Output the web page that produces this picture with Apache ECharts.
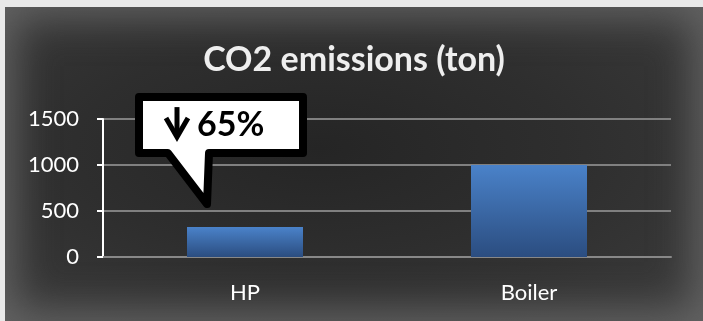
<!DOCTYPE html>
<html>
<head>
<meta charset="utf-8">
<script src="https://cdn.jsdelivr.net/npm/echarts@6/dist/echarts.min.js"></script>
<style>
  html, body { margin: 0; padding: 0; width: 703px; height: 321px; overflow: hidden; background: #e9e9e9; }
  #chart {
    position: absolute; left: 5px; top: 7px; width: 698px; height: 314px;
    background: radial-gradient(ellipse at 45% 45%, #252525 0%, #2e2e2e 45%, #3c3c3c 100%);
    box-shadow: inset 0 0 40px 10px rgba(110, 110, 110, 0.8);
  }
</style>
</head>
<body>
<div id="chart"></div>
<script>
// values
const categories = ["HP", "Boiler"];
const emissions = [325, 1000];
const yTicks = [0, 500, 1000, 1500];
const calloutText = "65%";

const chart = echarts.init(document.getElementById("chart"));

const barColor = new echarts.graphic.LinearGradient(0, 0, 0, 1, [
    { offset: 0, color: "#4a82c9" },
    { offset: 1, color: "#2b4d80" }
]);

chart.setOption({
    animation: false,
    backgroundColor: "transparent",
    title: {
        text: "CO2 emissions (ton)",
        left: "center",
        top: 31,
        textStyle: { color: "#eeeeee", fontFamily: "Lato", fontWeight: "bold", fontSize: 34 }
    },
    grid: { left: 98, right: 32, top: 112, bottom: 64 },
    xAxis: {
        type: "category",
        data: categories,
        axisLine: { lineStyle: { color: "#888888", width: 2 } },
        axisTick: { length: 10, lineStyle: { color: "#888888", width: 2 } },
        axisLabel: { color: "#ffffff", fontFamily: "Lato", fontSize: 22, margin: 25 }
    },
    yAxis: {
        type: "value",
        min: yTicks[0],
        max: yTicks[yTicks.length - 1],
        interval: yTicks[1] - yTicks[0],
        axisLine: { show: true, lineStyle: { color: "#ffffff", width: 2 } },
        axisTick: { show: true, length: 6, lineStyle: { color: "#ffffff", width: 2 } },
        splitLine: { lineStyle: { color: "#808080", width: 2 } },
        axisLabel: {
            color: "#ffffff", fontFamily: "Lato", fontSize: 22, margin: 24,
            formatter: v => String(v)
        }
    },
    series: [{
        type: "bar",
        data: emissions,
        barWidth: 116,
        itemStyle: { color: barColor }
    }]
});

// speech-bubble callout anchored to the HP bar top
const anchor = chart.convertToPixel({ gridIndex: 0 }, [categories[0], emissions[0]]);
const ax = anchor[0], ay = anchor[1];
const bx = ax - 106, by = ay - 130;   // box left/top (stroke centre)
const bw = 164, bh = 56;
chart.setOption({
    graphic: [
        {
            type: "polygon",
            z: 100,
            shape: {
                points: [
                    [bx, by], [bx + bw, by], [bx + bw, by + bh],
                    [bx + 70, by + bh], [bx + 68, by + bh + 51],
                    [bx + 29, by + bh], [bx, by + bh]
                ]
            },
            style: { fill: "#ffffff", stroke: "#000000", lineWidth: 8, lineJoin: "round" }
        },
        {
            // down arrow: shaft
            type: "line",
            z: 101,
            shape: { x1: bx + 38, y1: by + 10, x2: bx + 38, y2: by + 38 },
            style: { stroke: "#000000", lineWidth: 5 }
        },
        {
            // down arrow: head
            type: "polyline",
            z: 101,
            shape: { points: [[bx + 27, by + 21], [bx + 38, by + 40], [bx + 49, by + 21]] },
            style: { stroke: "#000000", lineWidth: 5, fill: null, lineJoin: "miter" }
        },
        {
            type: "text",
            z: 101,
            x: bx + 58,
            y: by + 28,
            style: {
                text: calloutText,
                fill: "#000000",
                font: "bold 34px Lato",
                align: "left",
                verticalAlign: "middle"
            }
        }
    ]
});
</script>
</body>
</html>
